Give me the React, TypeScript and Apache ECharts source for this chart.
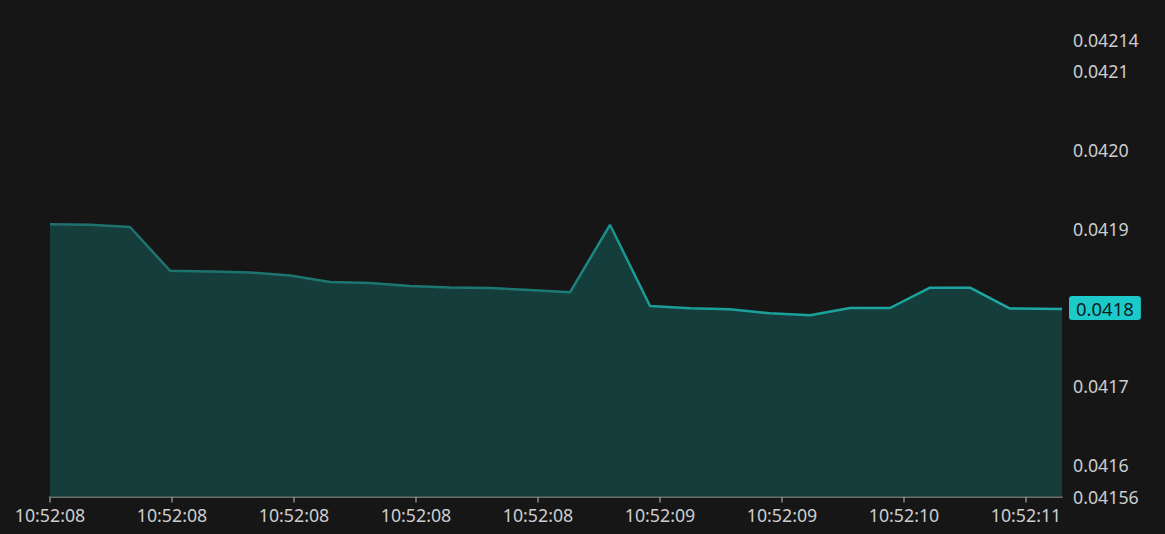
import React, { useEffect, useRef } from "react";
import * as echarts from "echarts";

// sample positions (sample slot of each price; the last one is the live price)
const sampleSlots = [
  0, 1, 2, 3, 4, 5, 6, 7, 8, 9, 10, 11, 12, 13, 14, 15, 16, 17, 18, 19, 20, 21, 22, 23, 24, 25.3,
];
const prices = [
  0.0419058, 0.0419052, 0.0419024, 0.0418469, 0.0418458, 0.0418446, 0.0418408, 0.0418325,
  0.0418313, 0.0418274, 0.0418255, 0.0418249, 0.0418224, 0.0418194, 0.0419052, 0.041802,
  0.0417991, 0.0417978, 0.0417927, 0.0417902, 0.0417995, 0.0417995, 0.0418253, 0.0418253,
  0.0417988, 0.0417982,
];
const xTickLabels = [
  "10:52:08", "10:52:08", "10:52:08", "10:52:08", "10:52:08",
  "10:52:09", "10:52:09", "10:52:10", "10:52:11",
];
const yMin = 0.04156;
const yMax = 0.04214;
const xMax = 25.3;
const xTickStep = 3.05;

export default function App() {
  const ref = useRef<HTMLDivElement>(null);
  useEffect(() => {
    if (!ref.current) return;
    const chart = echarts.init(ref.current, null, { renderer: "svg" });
    const lastPrice = prices[prices.length - 1];
    const font = "'Noto Sans', 'Open Sans', sans-serif";
    chart.setOption({
      animation: false,
      backgroundColor: "#161616",
      grid: { left: 50, right: 103, top: 40, bottom: 37.5 },
      xAxis: {
        type: "value",
        min: 0,
        max: xMax,
        interval: xTickStep,
        splitLine: { show: false },
        axisLine: { show: true, lineStyle: { color: "#8a8a8a", width: 1.5 } },
        axisTick: { show: true, length: 6, lineStyle: { color: "#8a8a8a", width: 1.5 } },
        axisLabel: {
          showMaxLabel: false,
          color: "#cdcdcd",
          fontSize: 17.8,
          fontFamily: font,
          margin: 9,
          formatter: (_v: number, i: number) => xTickLabels[i] ?? "",
        },
      },
      yAxis: {
        type: "value",
        position: "right",
        min: yMin,
        max: yMax,
        splitNumber: 5,
        splitLine: { show: false },
        axisLine: { show: false },
        axisTick: { show: false },
        axisLabel: {
          color: "#cdcdcd",
          fontSize: 17.8,
          fontFamily: font,
          margin: 11,
          formatter: (v: number) => {
            const s = v.toFixed(5).replace(/0$/, "");
            return s === lastPrice.toFixed(4) ? "" : s;
          },
        },
      },
      series: [
        {
          type: "line",
          data: sampleSlots.map((x, i) => [x, prices[i]]),
          showSymbol: false,
          symbol: "none",
          lineStyle: {
            width: 2.5,
            color: new echarts.graphic.LinearGradient(0, 0, 1, 0, [
              { offset: 0, color: "#1f706c" },
              { offset: 0.5, color: "#1c7874" },
              { offset: 0.58, color: "#1a9c97" },
              { offset: 1, color: "#1ca9a4" },
            ]),
          },
          areaStyle: { color: "#143d3c", opacity: 1 },
          endLabel: {
            show: true,
            distance: 7,
            offset: [0, -1],
            formatter: (p: any) => Number(p.value[1]).toFixed(4),
            backgroundColor: "#1ccac9",
            color: "#0e1c1c",
            padding: [3, 7, 2, 7],
            borderRadius: 3,
            fontSize: 18.5,
            fontFamily: font,
          },
        },
      ],
    });
    return () => chart.dispose();
  }, []);
  return (
    <div
      ref={ref}
      style={{ position: "absolute", left: 0, top: 0, width: 1165, height: 534 }}
    />
  );
}
